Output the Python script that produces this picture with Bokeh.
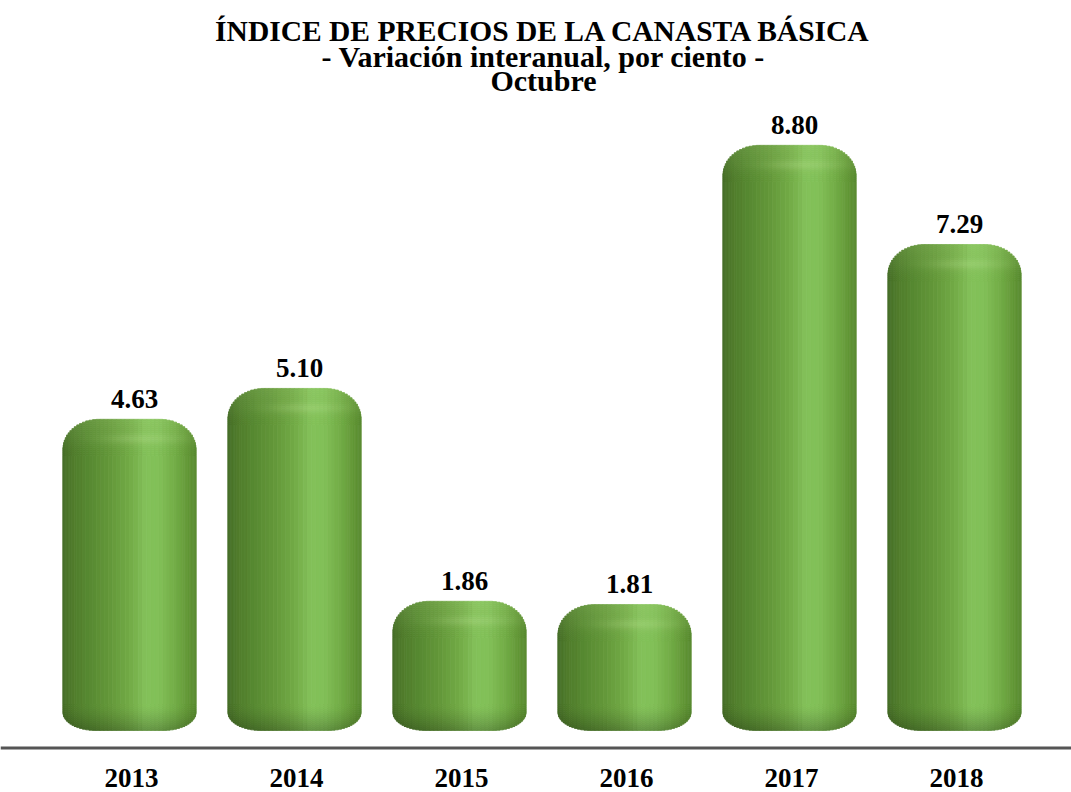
import numpy as np
from bokeh.plotting import figure
from bokeh.models import ColumnDataSource, Range1d, Span
from bokeh.core.properties import value
from bokeh.embed import file_html
from bokeh.resources import INLINE

# ---------------- data ----------------
years = ["2013", "2014", "2015", "2016", "2017", "2018"]
values = [4.63, 5.10, 1.86, 1.81, 8.80, 7.29]
value_labels = ["4.63", "5.10", "1.86", "1.81", "8.80", "7.29"]
title_lines = [
    "ÍNDICE DE PRECIOS DE LA CANASTA BÁSICA",
    "- Variación interanual, por ciento -",
    "Octubre",
]

# ---------------- layout constants ----------------
W, H = 1071, 792
PX_X = 165.0          # pixels per category
PX_Y = 65.7           # pixels per percentage point
ZERO_PX = 723.0       # pixel row of value 0
X0 = -129.0 / PX_X
Y1 = ZERO_PX / PX_Y
Y0 = Y1 - H / PX_Y
TXT_SHIFT = 10.5      # svg text renders this many px below its anchor


def ypix(py):
    """data y of a pixel row (from top)"""
    return (ZERO_PX - py) / PX_Y


FONT = value("Liberation Serif")

p = figure(width=W, height=H, x_range=Range1d(X0, X0 + W / PX_X),
           y_range=Range1d(Y0, Y1), x_axis_type=None, y_axis_type=None,
           toolbar_location=None, output_backend="svg", min_border=0)
p.outline_line_color = None
p.background_fill_color = "white"
p.border_fill_color = "white"
p.grid.visible = False

# ---------------- cylinder bars ----------------
HW = 0.403            # half width in category units
NS = 48               # vertical strips per bar
AT, RYT = 0.55, 30.0 / PX_Y      # top corner (fraction of half width, height)
AB, RYB = 0.50, 18.0 / PX_Y      # bottom corner
BOT0 = -7.0 / PX_Y               # lowest point of bar bottom
CAPZ, BOTZ, STEP = 36.0, 26.0, 2.0

cu = [-1.0, -0.85, -0.6, -0.3, 0.0, 0.25, 0.45, 0.7, 0.9, 1.0]
cr = [70, 80, 88, 100, 114, 132, 130, 114, 98, 90]
cg = [110, 124, 138, 152, 170, 194, 192, 172, 150, 140]
cb = [40, 44, 50, 58, 70, 90, 88, 70, 54, 50]
LIGHT = np.array([190.0, 228.0, 150.0])


def body_rgb(u):
    return np.array([np.interp(u, cu, cr), np.interp(u, cu, cg), np.interp(u, cu, cb)])


def shade(c, k):
    if k >= 0:
        c = c + k * (LIGHT - c)
    else:
        c = c * (1 + k)
    c = np.clip(c, 0, 255).astype(int)
    return "#%02x%02x%02x" % tuple(c)


L, R, T, B, C = [], [], [], [], []


def add(l, r, t, b, col):
    if t > b:
        L.append(l); R.append(r); T.append(t); B.append(b); C.append(col)


edges = -np.cos(np.pi * np.arange(NS + 1) / NS)   # finer strips near the edges

for i, v in enumerate(values):
    for j in range(NS):
        ul, ur = edges[j], edges[j + 1]
        u = 0.5 * (ul + ur)
        left, right = i + HW * ul, i + HW * ur
        dt = min(1.0, max(0.0, (abs(u) - (1 - AT)) / AT))
        db = min(1.0, max(0.0, (abs(u) - (1 - AB)) / AB))
        top_u = v - RYT * (1 - np.sqrt(1 - dt * dt))
        bot_u = BOT0 + RYB * (1 - np.sqrt(1 - db * db))
        base = body_rgb(u)
        hl = np.exp(-((u - 0.2) / 0.55) ** 2)
        # cap bands
        pa = 0.0
        while pa < CAPZ:
            pb = pa + STEP
            pm = 0.5 * (pa + pb)
            k = 0.16 * (1 - pm / CAPZ) ** 1.2 + 0.24 * hl * np.exp(-((pm - 20) / 5.0) ** 2)
            add(left, right, min(top_u, v - pa / PX_Y), max(bot_u, v - pb / PX_Y), shade(base, k))
            pa = pb
        # body
        add(left, right, min(top_u, v - CAPZ / PX_Y), max(bot_u, BOT0 + BOTZ / PX_Y), shade(base, 0))
        # bottom bands
        qa = 0.0
        while qa < BOTZ:
            qb = qa + STEP
            qm = 0.5 * (qa + qb)
            k = -0.24 * (1 - qm / BOTZ) ** 1.4
            add(left, right, min(top_u, v - CAPZ / PX_Y, BOT0 + qb / PX_Y),
                max(bot_u, BOT0 + qa / PX_Y), shade(base, k))
            qa = qb

src = ColumnDataSource(dict(left=L, right=R, top=T, bottom=B, color=C))
p.quad(left="left", right="right", top="top", bottom="bottom", source=src,
       fill_color="color", line_color="color", line_width=0.8)

# ---------------- baseline ----------------
p.add_layout(Span(location=ypix(747.5), dimension="width",
                  line_color="#555555", line_width=3))

# ---------------- value labels ----------------
xs = list(range(len(years)))
p.text(x=xs, y=[v + (10.0 + TXT_SHIFT) / PX_Y for v in values], text=value_labels,
       x_offset=5, text_align="center", text_baseline="alphabetic", text_font=FONT,
       text_font_size="27px", text_font_style="bold", text_color="black")

# ---------------- category labels ----------------
p.text(x=xs, y=[ypix(788.0 - TXT_SHIFT)] * len(years), text=years, x_offset=2,
       text_align="center", text_baseline="alphabetic", text_font=FONT,
       text_font_size="27px", text_font_style="bold", text_color="black")

# ---------------- title ----------------
title_x = 543.0 / PX_X + X0
title_y = [ypix(41.0 - TXT_SHIFT), ypix(66.5 - TXT_SHIFT), ypix(90.5 - TXT_SHIFT)]
title_size = ["29.5px", "30px", "30px"]
p.text(x=[title_x] * 3, y=title_y, text=title_lines, text_align="center",
       text_baseline="alphabetic", text_font=FONT, text_font_size=title_size,
       text_font_style="bold", text_color="black")

open("out.html", "w").write(file_html(p, INLINE))
